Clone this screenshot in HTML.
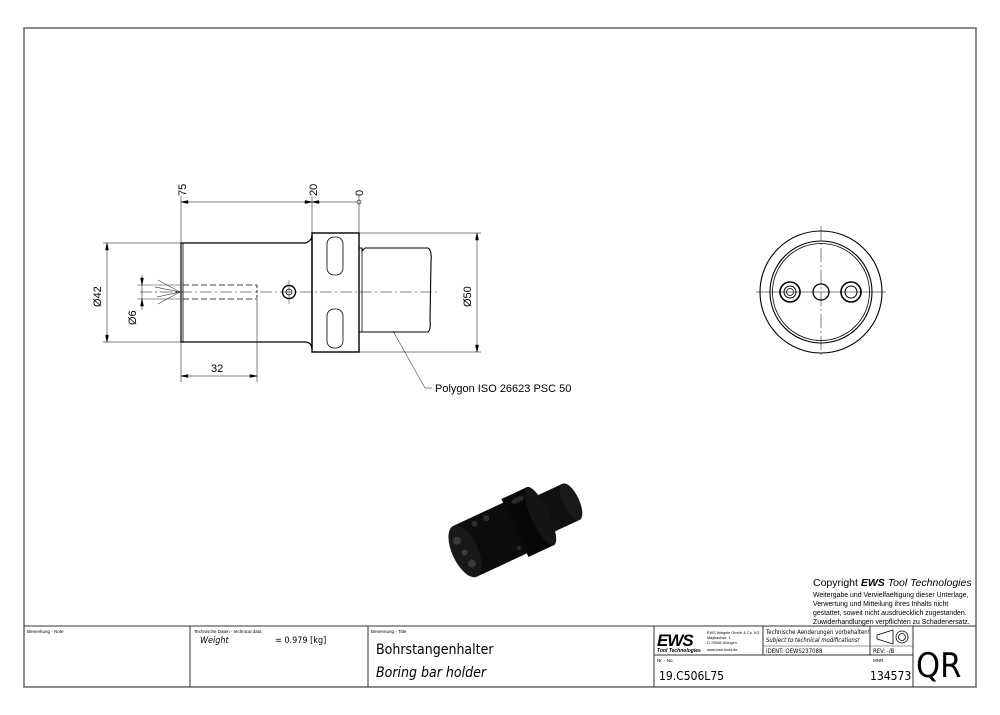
<!DOCTYPE html>
<html><head><meta charset="utf-8"><style>
html,body{margin:0;padding:0;background:#fff}
svg{display:block}
text{font-family:"Liberation Sans",sans-serif}
.m{font-family:"DejaVu Sans Condensed","DejaVu Sans",sans-serif}
</style></head><body>
<svg width="1000" height="715" viewBox="0 0 1000 715" xmlns="http://www.w3.org/2000/svg">
<rect x="24" y="28" width="952" height="659" fill="none" stroke="#666" stroke-width="1.5"/>
<g stroke="#000" fill="none" stroke-width="0.8">
<line x1="181" y1="196" x2="181" y2="243" stroke-width="0.5"/>
<line x1="312" y1="196" x2="312" y2="233" stroke-width="0.5"/>
<line x1="359" y1="196" x2="359" y2="233" stroke-width="0.5"/>
<line x1="181" y1="202" x2="357" y2="202" stroke-width="0.5"/>
<circle cx="359" cy="202" r="2" stroke-width="0.6"/>
<path d="M181 243 L306 243 Q312 240 312 236 L312 349 Q312 343 306 342 L181 342 Z" stroke-width="1.2"/>
<line x1="183" y1="243" x2="183" y2="342"/>
<rect x="312" y="233" width="47" height="119" stroke-width="1.4"/>
<rect x="327" y="237" width="16" height="38" rx="7"/>
<rect x="327" y="309" width="16" height="39" rx="7"/>
<path d="M359 248 L362 248 L362 251 L365 248 L428 248 Q432 250 431 262 L430 320 Q431 330 428 332 L362 332 L359 332" stroke-width="1.1"/>
<line x1="362" y1="251" x2="362" y2="332"/>
<line x1="140" y1="292" x2="440" y2="292" stroke-width="0.5" stroke-dasharray="12,3,2,3"/>
<line x1="183" y1="285" x2="257" y2="285" stroke-dasharray="6,3"/>
<line x1="183" y1="299" x2="257" y2="299" stroke-dasharray="6,3"/>
<line x1="257" y1="285" x2="257" y2="299" stroke-dasharray="3,2"/>
<path d="M180 292 L158 280 M180 292 L155 287 M180 292 L157 297 M180 292 L158 304" stroke-width="0.5"/>
<circle cx="289" cy="292" r="6.5" stroke-width="1.4"/>
<circle cx="289" cy="292" r="3"/>
<line x1="289" y1="280" x2="289" y2="304" stroke-width="0.4"/>
<line x1="103" y1="243" x2="181" y2="243" stroke-width="0.5"/>
<line x1="103" y1="342" x2="181" y2="342" stroke-width="0.5"/>
<line x1="107" y1="243" x2="107" y2="342" stroke-width="0.5"/>
<line x1="137" y1="285" x2="181" y2="285" stroke-width="0.4"/>
<line x1="137" y1="299" x2="181" y2="299" stroke-width="0.4"/>
<line x1="142" y1="275" x2="142" y2="310" stroke-width="0.5"/>
<line x1="359" y1="233" x2="481" y2="233" stroke-width="0.5"/>
<line x1="359" y1="352" x2="481" y2="352" stroke-width="0.5"/>
<line x1="477" y1="233" x2="477" y2="352" stroke-width="0.5"/>
<line x1="181" y1="342" x2="181" y2="382" stroke-width="0.5"/>
<line x1="257" y1="299" x2="257" y2="382" stroke-width="0.5"/>
<line x1="181" y1="376" x2="257" y2="376" stroke-width="0.5"/>
<polyline points="393,331 425,388 432,388" stroke-width="0.5"/>
<circle cx="821" cy="292" r="61" stroke-width="1.1"/>
<circle cx="821" cy="292" r="51" stroke-width="1.1"/>
<circle cx="821" cy="292" r="48.5" stroke-width="0.8"/>
<circle cx="790" cy="292" r="10" stroke-width="1.6"/>
<circle cx="790" cy="292" r="6" stroke-width="1"/>
<circle cx="790" cy="292" r="3.5"/>
<circle cx="851" cy="292" r="10" stroke-width="1.6"/>
<circle cx="851" cy="292" r="6" stroke-width="1"/>
<circle cx="821" cy="292" r="8" stroke-width="1.3"/>
<line x1="821" y1="226" x2="821" y2="358" stroke-width="0.5" stroke-dasharray="14,3,2,3"/>
<line x1="756" y1="292" x2="886" y2="292" stroke-width="0.5"/>
</g>
<g fill="#000" stroke="#000" stroke-width="0.5">
<path d="M181 202 l7 -1.5 v3z M312 202 l-7 -1.5 v3z M312 202 l7 -1.5 v3z M107 243 l-1.5 7 h3z M107 342 l-1.5 -7 h3z M477 233 l-1.5 7 h3z M477 352 l-1.5 -7 h3z M181 376 l7 -1.5 v3z M257 376 l-7 -1.5 v3z M142 285 l-1.5 -7 h3z M142 299 l-1.5 7 h3z"/>
</g>
<g class="m" font-size="11" fill="#000">
<text transform="translate(186,196) rotate(-90)">75</text>
<text transform="translate(317,196) rotate(-90)">20</text>
<text transform="translate(363,196) rotate(-90)">0</text>
<text transform="translate(101,307) rotate(-90)">Ø42</text>
<text transform="translate(136,325) rotate(-90)">Ø6</text>
<text transform="translate(471,307) rotate(-90)">Ø50</text>
<text x="211" y="372">32</text>
<text x="435" y="392">Polygon ISO 26623 PSC 50</text>
</g>
<!-- 3D part -->
<g transform="translate(515,528) rotate(-25)">
<rect x="28" y="-20" width="34" height="40" fill="#111"/>
<ellipse cx="62" cy="0" rx="8" ry="20" fill="#1a1a1a"/>
<rect x="0" y="-32" width="28" height="64" fill="#080808"/>
<ellipse cx="28" cy="0" rx="9" ry="32" fill="#151515"/>
<rect x="8" y="-27" width="13" height="5" rx="2.5" fill="#2a2a2a"/>
<rect x="-55" y="-28" width="56" height="56" fill="#0c0c0c"/>
<ellipse cx="-55" cy="0" rx="13" ry="28" fill="#181818"/>
<circle cx="-58" cy="-13" r="4" fill="#3a3a3a"/>
<circle cx="-56" cy="1" r="3" fill="#3a3a3a"/>
<circle cx="-54" cy="14" r="4" fill="#3a3a3a"/>
<circle cx="-35" cy="-21" r="3" fill="#2c2c2c"/>
<circle cx="-22" cy="-21" r="3" fill="#2c2c2c"/>
<circle cx="-5" cy="20" r="2" fill="#2c2c2c"/>
</g>
<text x="813" y="586" font-size="10.5">Copyright <tspan font-weight="bold" font-style="italic">EWS</tspan> <tspan font-style="italic">Tool Technologies</tspan></text>
<g font-size="6.9" fill="#000">
<text x="813" y="597">Weitergabe und Vervielfaeltigung dieser Unterlage,</text>
<text x="813" y="606">Verwertung und Mitteilung ihres Inhalts nicht</text>
<text x="813" y="615">gestattet, soweit nicht ausdruecklich zugestanden.</text>
<text x="813" y="624">Zuwiderhandlungen verpflichten zu Schadenersatz.</text>
</g>
<g stroke="#333" fill="none" stroke-width="1">
<line x1="24" y1="626" x2="976" y2="626"/>
<line x1="190" y1="626" x2="190" y2="687"/>
<line x1="368" y1="626" x2="368" y2="687"/>
<line x1="654" y1="626" x2="654" y2="687"/>
<line x1="913" y1="626" x2="913" y2="687"/>
<line x1="763" y1="626" x2="763" y2="655"/>
<line x1="870" y1="626" x2="870" y2="655"/>
<line x1="763" y1="646" x2="913" y2="646" stroke-width="0.6"/>
<line x1="654" y1="655" x2="913" y2="655"/>
</g>
<g fill="#000">
<text x="27" y="633" font-size="4.5">Bemerkung - Note</text>
<text x="194" y="633" font-size="4.5">Technische Daten - technical data</text>
<text x="371" y="633" font-size="4.5">Benennung - Title</text>
<text x="200" y="643" class="m" font-size="9" font-style="italic">Weight</text>
<text x="275" y="643" class="m" font-size="9">=  0.979 [kg]</text>
<text x="376" y="654" class="m" font-size="14">Bohrstangenhalter</text>
<text x="376" y="677" class="m" font-size="14" font-style="italic">Boring bar holder</text>
<text x="657" y="646" font-size="17" font-weight="bold" font-style="italic" letter-spacing="-1">EWS</text>
<text x="657" y="652" font-size="5" font-weight="bold" font-style="italic">Tool Technologies</text>
<text x="707" y="634" font-size="3.8">EWS Weigele GmbH &amp; Co. KG</text>
<text x="707" y="639" font-size="3.8">Maybachstr. 1</text>
<text x="707" y="644" font-size="3.8">D-73066 Uhingen</text>
<text x="707" y="651" font-size="3.8">www.ews-tools.de</text>
<text x="766" y="634" class="m" font-size="6">Technische Aenderungen vorbehalten!</text>
<text x="766" y="642" class="m" font-size="6" font-style="italic">Subject to technical modifications!</text>
<text x="766" y="653" class="m" font-size="6">IDENT:  OEWS237088</text>
<text x="873" y="653" class="m" font-size="6">REV:  -/B</text>
<text x="657" y="662" font-size="4.5">Nr. - No.</text>
<text x="873" y="662" font-size="4.5">MNR.</text>
<text x="659" y="680" class="m" font-size="12">19.C506L75</text>
<text x="870" y="680" class="m" font-size="12">134573</text>
<text x="916" y="677" class="m" font-size="34">QR</text>
</g>
<g stroke="#000" fill="none" stroke-width="0.8">
<path d="M877 635 L893 630 L893 644 L877 639 Z"/>
<circle cx="902" cy="637" r="6"/><circle cx="902" cy="637" r="3.5"/>
</g>
</svg>
</body></html>
